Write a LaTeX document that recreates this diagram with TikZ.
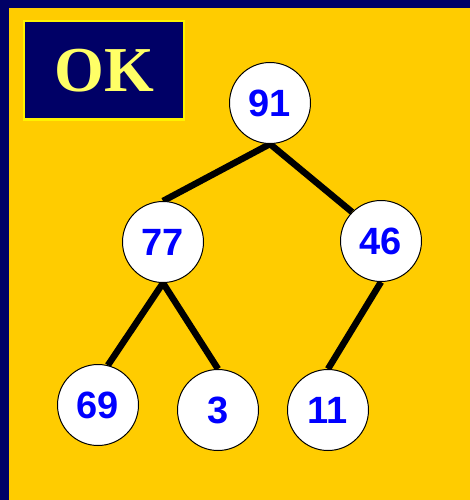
\documentclass[tikz,border=0pt]{standalone}
\usepackage{fontspec}
\setmainfont{Liberation Serif}
\setsansfont{Liberation Sans}
\definecolor{navy}{HTML}{000066}
\definecolor{gold}{HTML}{FFCC00}
\definecolor{okyellow}{HTML}{FFFF66}
\pgfdeclarelayer{bg}
\pgfsetlayers{bg,main}

\begin{document}
\begin{tikzpicture}[x=1pt,y=-1pt,
  key/.style={circle,draw=black,line width=1pt,fill=white,minimum size=81pt,
    inner sep=0pt,text=blue,font=\sffamily\bfseries\fontsize{38}{38}\selectfont},
  link/.style={line width=6.5pt}]
  \begin{pgfonlayer}{bg}
    \fill[navy] (0,0) rectangle (470,500);
    \fill[gold] (9,8) rectangle (470,500);
  \end{pgfonlayer}
  \node[fill=navy,draw=yellow,line width=2pt,minimum width=160pt,minimum height=98pt,
    inner sep=0pt,text=okyellow,font=\bfseries\fontsize{64}{64}\selectfont]
    (ok) at (104,70.5) {OK};
  \foreach \n/\px/\py in {91/270/103, 77/163/242, 46/381/241,
                          69/98/405, 3/218/410, 11/328/410}
    \node[key] (n\n) at (\px,\py) {\n};
  \begin{pgfonlayer}{bg}
    \foreach \a/\b/\ang in {91/77/90, 91/46/135, 77/69/76, 77/3/90, 46/11/90}
      \draw[link] (n\a.south) -- (n\b.\ang);
  \end{pgfonlayer}
\end{tikzpicture}
\end{document}
